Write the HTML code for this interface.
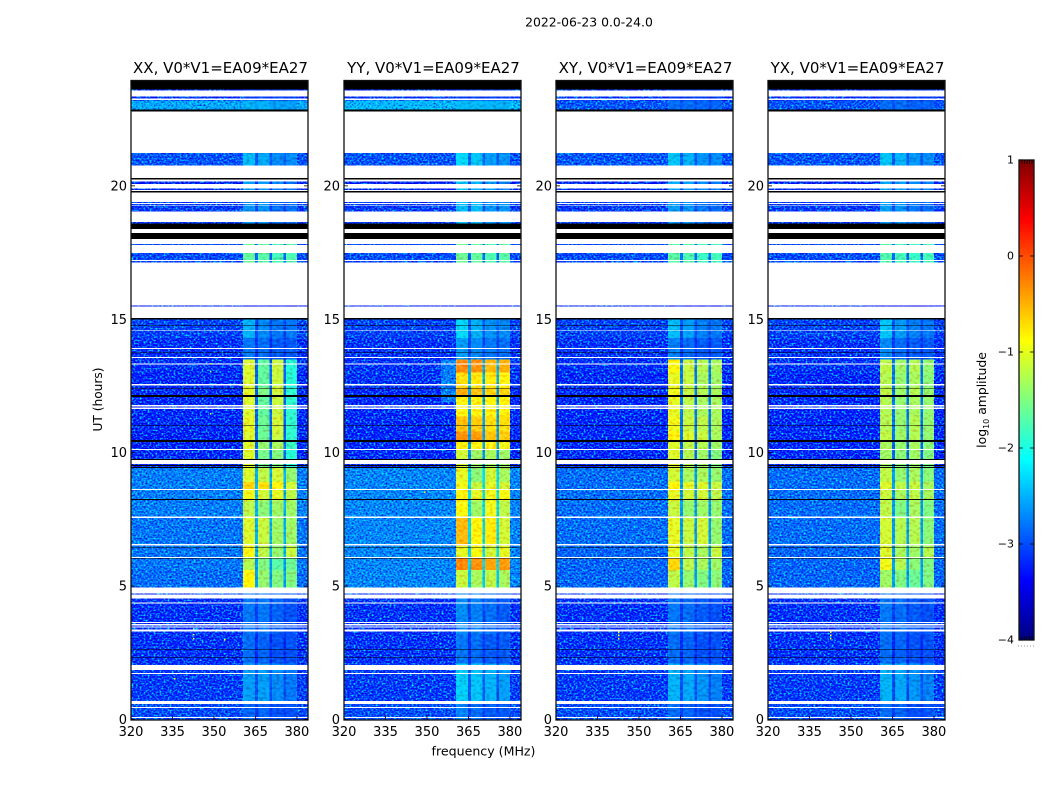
<!DOCTYPE html>
<html lang="en">
<head>
<meta charset="utf-8">
<title>2022-06-23 0.0-24.0</title>
<style>
html,body{margin:0;padding:0;background:#fff;}
svg{display:block;}
text{font-family:"DejaVu Sans","Liberation Sans",sans-serif;fill:#000;}
</style>
</head>
<body>
<svg id="chart" xmlns="http://www.w3.org/2000/svg" width="1050" height="800" viewBox="0 0 1050 800">
<defs>
<filter id="grain-strong" x="0" y="0" width="100%" height="100%" color-interpolation-filters="sRGB">
<feTurbulence type="fractalNoise" baseFrequency="0.5 0.6" numOctaves="1" seed="7"/>
<feColorMatrix type="matrix" values="0 0 0 0 0.5  1.5 0 0 0 -0.2  0.7 0 0 0 0.22  0 0 0 0 1"/>
</filter>
<filter id="grain-weak" x="0" y="0" width="100%" height="100%" color-interpolation-filters="sRGB">
<feTurbulence type="fractalNoise" baseFrequency="0.3 0.4" numOctaves="1" seed="11"/>
<feColorMatrix type="matrix" values="0 0 0 0 0.5  0.4 0 0 0 0.3  0.4 0 0 0 0.3  0 0 0 0 1"/>
</filter>
</defs>
<rect x="0" y="0" width="1050" height="800" fill="#fff"/>
<text x="589" y="26.5" font-size="12.4" text-anchor="middle">2022-06-23 0.0-24.0</text>
<text x="483.5" y="755.5" font-size="12.6" text-anchor="middle">frequency (MHz)</text>
<text x="0" y="0" font-size="12.2" text-anchor="middle" transform="translate(102,399.5) rotate(-90)">UT (hours)</text>
<text x="0" y="0" font-size="12.4" text-anchor="middle" transform="translate(986,400) rotate(-90)">log<tspan font-size="8" dy="3">10</tspan><tspan dy="-3"> amplitude</tspan></text>
<g id="panels"></g>
<g id="colorbar"></g>
</svg>
<script>
/* ---------- data ---------- */
const panelNames = ["XX, V0*V1=EA09*EA27","YY, V0*V1=EA09*EA27","XY, V0*V1=EA09*EA27","YX, V0*V1=EA09*EA27"];
const xTickValues = [320,335,350,365,380];
const yTickValues = [0,5,10,15,20];
const colorbarTickValues = [1,0,-1,-2,-3,-4];

/* frequency channels (MHz): background, band1, gap, band2, gap, band3, gap, band4, background */
const channelEdges = [320,360.5,364.8,365.9,370,371,375.1,376,380,384];
/* which value of a row each channel reads: 0 bg, 1-4 bands, 5 gap */
const channelSource = [0,1,5,2,5,3,5,4,0];

/* time blocks (UT hours) */
const rowEdges = [0,.7,2.1,3.2,4.85,5.6,6.05,6.5,7.55,8.2,8.6,8.9,9.45,10.1,10.4,10.8,11.35,12.1,12.45,13,13.5,14.3,15,17,18,19.5,20.4,21.5,22.7,23.2,23.93];

/* log10 amplitude per time block: [bg, band1, band2, band3, band4, gap] */
const levelsXX = [
[-3.15,-2.9,-2.9,-3.0,-3.0,-3.1],[-3.25,-2.6,-2.6,-2.7,-2.8,-3.0],[-3.3,-2.85,-2.9,-3.0,-3.0,-3.2],[-3.3,-2.8,-2.8,-2.9,-3.0,-3.1],
[-2.95,-0.85,-1.4,-1.5,-1.5,-2.6],[-2.9,-1.25,-1.5,-1.7,-1.6,-2.6],[-2.9,-0.9,-1.2,-1.4,-1.15,-2.5],[-2.9,-1.05,-1.15,-1.35,-1.35,-2.5],
[-2.85,-1.2,-1.45,-1.35,-1.35,-2.5],[-2.85,-0.95,-1.1,-1.0,-1.2,-2.5],[-2.85,-0.7,-0.75,-0.85,-1.1,-2.5],[-2.85,-1.05,-1.2,-1.1,-1.4,-2.5],
[-3.35,-1.05,-1.55,-1.5,-1.95,-2.9],[-3.4,-1.05,-1.4,-1.3,-1.85,-2.9],[-3.4,-1.05,-1.6,-1.15,-1.9,-2.9],[-3.35,-1.0,-1.6,-1.1,-1.9,-2.9],
[-3.35,-1.05,-1.65,-1.15,-1.9,-2.9],[-3.35,-1.0,-1.5,-1.1,-1.9,-2.9],[-3.35,-1.05,-1.65,-1.15,-1.95,-2.9],[-3.3,-1.05,-1.65,-1.15,-1.95,-2.9],
[-3.3,-2.8,-2.85,-2.95,-2.95,-3.15],[-3.2,-2.5,-2.7,-2.8,-2.8,-3.05],[-3.45,-3.45,-3.45,-3.45,-3.45,-3.45],
[-3.15,-1.65,-1.7,-1.8,-1.75,-2.9],[-3.25,-2.65,-2.65,-2.85,-2.85,-3.1],[-3.4,-2.6,-2.65,-2.75,-2.8,-3.2],[-3.1,-2.45,-2.55,-2.7,-2.7,-2.95],
[-3.1,-3,-3,-3,-3,-3],[-2.6,-2.5,-2.5,-2.6,-2.6,-2.6],[-3.3,-3.1,-3.1,-3.1,-3.1,-3.2]
];
const levelsYY = [
[-3.15,-2.75,-2.85,-2.95,-2.95,-3.1],[-3.25,-2.35,-2.4,-2.5,-2.6,-2.95],[-3.3,-2.8,-2.85,-2.95,-2.95,-3.15],[-3.3,-2.7,-2.75,-2.85,-2.95,-3.05],
[-2.8,-1.15,-1.3,-1.2,-1.3,-2.4],[-2.8,-0.3,-0.35,-0.45,-0.4,-2.3],[-2.8,-1.0,-0.9,-1.1,-1.0,-2.3],[-2.8,-0.55,-0.85,-0.8,-1.1,-2.3],
[-2.8,-0.9,-1.35,-0.95,-1.2,-2.3],[-2.8,-0.85,-1.0,-0.95,-0.9,-2.3],[-2.8,-0.95,-1.15,-1.0,-1.1,-2.3],[-2.8,-1.0,-1.45,-1.1,-1.3,-2.3],
[-3.35,-1.1,-1.35,-1.3,-1.35,-2.7],[-3.35,-0.85,-0.85,-0.85,-0.95,-2.6],[-3.35,-0.35,-0.4,-0.6,-0.65,-2.6],[-3.35,-0.6,-0.65,-0.75,-0.75,-2.6],
[-3.35,-0.85,-0.85,-0.85,-0.85,-2.6],[-3.35,-0.5,-0.6,-0.7,-0.7,-2.6],[-3.3,-0.75,-0.8,-0.8,-0.85,-2.5],[-3.3,-0.3,-0.35,-0.55,-0.5,-2.5],
[-3.3,-2.6,-2.7,-2.8,-2.85,-3.05],[-3.2,-2.3,-2.5,-2.65,-2.7,-2.95],[-3.45,-3.45,-3.45,-3.45,-3.45,-3.45],
[-3.15,-1.6,-1.65,-1.75,-1.7,-2.9],[-3.25,-2.45,-2.45,-2.65,-2.65,-3.0],[-3.4,-2.4,-2.5,-2.6,-2.7,-3.1],[-3.1,-2.3,-2.4,-2.6,-2.65,-2.9],
[-3.1,-3,-3,-3,-3,-3],[-2.5,-2.45,-2.45,-2.5,-2.5,-2.5],[-3.3,-3.1,-3.1,-3.1,-3.1,-3.2]
];
const levelsXY = [
[-3.15,-2.85,-2.9,-3.0,-3.0,-3.1],[-3.25,-2.5,-2.55,-2.65,-2.75,-3.0],[-3.3,-2.85,-2.9,-3.0,-3.0,-3.2],[-3.3,-2.8,-2.85,-2.95,-3.0,-3.1],
[-3.0,-1.2,-1.4,-1.5,-1.45,-2.6],[-3.0,-0.7,-1.2,-1.3,-1.35,-2.6],[-3.0,-1.0,-1.2,-1.3,-1.15,-2.6],[-2.95,-1.0,-1.15,-1.1,-1.4,-2.6],
[-2.95,-1.15,-1.4,-1.35,-1.4,-2.6],[-2.95,-1.0,-1.1,-1.1,-1.2,-2.6],[-2.95,-0.85,-1.0,-1.05,-1.15,-2.6],[-2.95,-1.1,-1.3,-1.3,-1.4,-2.6],
[-3.35,-1.05,-1.25,-1.35,-1.5,-2.9],[-3.35,-1.05,-1.2,-1.25,-1.35,-2.9],[-3.35,-0.85,-1.05,-1.15,-1.3,-2.8],[-3.35,-0.95,-1.15,-1.2,-1.3,-2.8],
[-3.35,-1.0,-1.2,-1.3,-1.3,-2.8],[-3.35,-0.95,-1.15,-1.25,-1.3,-2.8],[-3.35,-1.0,-1.15,-1.3,-1.35,-2.8],[-3.3,-0.9,-1.15,-1.25,-1.3,-2.8],
[-3.3,-2.75,-2.85,-2.95,-2.95,-3.15],[-3.2,-2.45,-2.6,-2.75,-2.8,-3.0],[-3.45,-3.45,-3.45,-3.45,-3.45,-3.45],
[-3.15,-1.7,-1.75,-1.85,-1.8,-2.9],[-3.25,-2.6,-2.65,-2.8,-2.85,-3.05],[-3.4,-2.55,-2.6,-2.7,-2.75,-3.15],[-3.1,-2.4,-2.5,-2.65,-2.7,-2.95],
[-3.1,-3,-3,-3,-3,-3],[-3.1,-2.85,-2.85,-2.9,-2.9,-3.0],[-3.3,-3.1,-3.1,-3.1,-3.1,-3.2]
];
const levelsYX = [
[-3.15,-2.85,-2.9,-3.0,-3.0,-3.1],[-3.25,-2.5,-2.55,-2.65,-2.75,-3.0],[-3.3,-2.85,-2.9,-3.0,-3.0,-3.2],[-3.3,-2.8,-2.85,-2.95,-3.0,-3.1],
[-3.0,-1.35,-1.5,-1.6,-1.5,-2.6],[-3.0,-0.95,-1.25,-1.45,-1.5,-2.6],[-3.0,-1.05,-1.3,-1.35,-1.25,-2.6],[-2.95,-1.1,-1.25,-1.25,-1.45,-2.6],
[-2.95,-1.2,-1.5,-1.3,-1.5,-2.6],[-2.95,-1.15,-1.3,-1.2,-1.3,-2.6],[-2.95,-1.05,-1.2,-1.15,-1.3,-2.6],[-2.95,-1.2,-1.4,-1.3,-1.45,-2.6],
[-3.35,-1.35,-1.45,-1.35,-1.5,-2.9],[-3.35,-1.3,-1.4,-1.3,-1.45,-2.9],[-3.35,-1.2,-1.35,-1.25,-1.4,-2.8],[-3.35,-1.25,-1.4,-1.25,-1.4,-2.8],
[-3.35,-1.25,-1.4,-1.3,-1.4,-2.8],[-3.35,-1.2,-1.35,-1.25,-1.4,-2.8],[-3.35,-1.25,-1.4,-1.3,-1.45,-2.8],[-3.3,-1.2,-1.35,-1.25,-1.4,-2.8],
[-3.3,-2.7,-2.85,-2.95,-2.95,-3.15],[-3.2,-2.4,-2.6,-2.75,-2.8,-3.0],[-3.45,-3.45,-3.45,-3.45,-3.45,-3.45],
[-3.15,-1.75,-1.8,-1.85,-1.8,-2.9],[-3.25,-2.6,-2.65,-2.8,-2.85,-3.05],[-3.4,-2.55,-2.6,-2.7,-2.75,-3.15],[-3.1,-2.4,-2.5,-2.65,-2.7,-2.95],
[-3.1,-3,-3,-3,-3,-3],[-3.1,-2.85,-2.85,-2.9,-2.9,-3.0],[-3.3,-3.1,-3.1,-3.1,-3.1,-3.2]
];

/* local brighter patches: [panel, hourStart, hourEnd, freqStart, freqEnd, level] */
const patches = [[1,11.9,13.5,355,360.5,-2.85]];

/* isolated bright pixels: [panel, hour, freq, level] */
const hotPixels = [
[0,3.02,353.6,-0.9],[0,1.55,335.5,-0.9],[0,13.37,348.6,-1.1],[0,13.07,348.6,-1.3],[0,11.49,348.6,-1.1],
[0,3.43,342.4,-1.6],[0,3.2,342.4,-1.0],[0,3.05,342.4,-1.0],
[1,8.55,349,-0.7],
[2,3.3,342.5,-0.9],[2,3.18,342.5,-0.9],[2,3.05,342.5,-1.0],
[3,3.3,342.5,-0.9],[3,3.18,342.5,-0.9],[3,3.05,342.5,-1.0]
];

/* rows with no data (white) or zero amplitude (black), common to all products: [hourStart, hourEnd, kind] */
const flagRows = [
[.06,.09,"w"],[.43,.47,"w"],[.58,.70,"w"],[1.71,1.74,"w"],[1.86,2.05,"w"],[2.32,2.34,"k"],[2.62,2.64,"k"],
[3.29,3.38,"w"],[3.44,3.48,"w"],[3.53,3.57,"w"],[3.62,3.66,"w"],[4.34,4.38,"w"],[4.54,4.68,"w"],[4.73,4.94,"w"],
[6.03,6.06,"k"],[6.06,6.09,"w"],[6.42,6.45,"k"],[6.52,6.57,"w"],[7.56,7.60,"w"],[8.23,8.26,"k"],[8.61,8.64,"w"],
[9.42,9.47,"k"],[9.51,9.53,"k"],[9.58,9.73,"w"],[9.73,9.77,"k"],[10.10,10.14,"w"],[10.40,10.48,"k"],[11.02,11.04,"k"],
[11.64,11.69,"w"],[11.74,11.79,"w"],[12.09,12.17,"k"],[12.38,12.40,"k"],[12.49,12.52,"w"],[12.54,12.58,"w"],
[13.30,13.34,"w"],[13.55,13.59,"w"],[13.73,13.76,"k"],[13.89,13.93,"w"],[14.57,14.59,"w"],[14.74,14.77,"k"],
[15.0,15.05,"k"],[15.05,15.47,"w"],[15.51,17.13,"w"],[17.19,17.23,"w"],[17.49,17.79,"w"],[17.83,18.01,"w"],
[18.01,18.24,"k"],[18.24,18.39,"w"],[18.39,18.58,"k"],[18.65,19.03,"w"],[19.25,19.27,"w"],[19.32,19.36,"w"],
[19.40,19.75,"w"],[19.75,19.81,"k"],[19.81,19.85,"w"],[19.90,20.07,"w"],[20.17,20.23,"w"],[20.23,20.30,"k"],
[20.30,20.76,"w"],[21.24,22.78,"w"],[22.78,22.87,"k"],[23.21,23.27,"w"],[23.34,23.58,"w"],[23.62,23.93,"k"]
];

const allLevels = [levelsXX,levelsYY,levelsXY,levelsYX];

/* ---------- layout and scales ---------- */
const SVGNS = "http://www.w3.org/2000/svg";
const panelLefts = [131,344,556,768];
const panelWidth = 177, panelBottom = 719.5, panelTop = 81;
const freqMin = 320, freqMax = 384, hourMax = 23.93;
const xScale = (f, left) => left + (f - freqMin) / (freqMax - freqMin) * panelWidth;
const yScale = h => panelBottom - h / hourMax * (panelBottom - panelTop);

const levelMin = -4, levelMax = 1;
const cbLeft = 1019, cbRight = 1034, cbTop = 160, cbBottom = 640;
const cbScale = l => cbBottom - (l - levelMin) / (levelMax - levelMin) * (cbBottom - cbTop);

function jetChannel(t){ return Math.max(0, Math.min(1, 1.5 - Math.abs(4 * t - 2))); }
function jetColor(level){
  const t = Math.max(0, Math.min(1, (level - levelMin) / (levelMax - levelMin)));
  const r = Math.round(255 * jetChannel(t - 0.25));
  const g = Math.round(255 * jetChannel(t));
  const b = Math.round(255 * jetChannel(t + 0.25));
  return "rgb(" + r + "," + g + "," + b + ")";
}
function shape(parent, tag, attrs){
  const el = document.createElementNS(SVGNS, tag);
  for (const k in attrs) el.setAttribute(k, attrs[k]);
  parent.appendChild(el);
  return el;
}
function rectFromBounds(parent, x0, x1, y0, y1, fill){
  return shape(parent, "rect", {x:x0, y:y1, width:x1 - x0, height:y0 - y1, fill:fill, "shape-rendering":"crispEdges"});
}

/* ---------- panels ---------- */
const panelsRoot = document.getElementById("panels");
panelNames.forEach(function(name, p){
  const left = panelLefts[p];
  const g = shape(panelsRoot, "g", {});
  
  

  const title = shape(g, "text", {x:left + panelWidth / 2 + 1, y:73, "font-size":15, "text-anchor":"middle"});
  title.textContent = name;
  
  

  const heat = shape(g, "g", {style:"isolation:isolate"});
  
  

  allLevels[p].forEach(function(row, r){
    channelSource.forEach(function(src, c){
      const cell = rectFromBounds(heat, xScale(channelEdges[c], left), xScale(channelEdges[c + 1], left), yScale(rowEdges[r]), yScale(rowEdges[r + 1]), jetColor(row[src]));
      
      
    });
  });

  patches.filter(function(q){ return q[0] === p; }).forEach(function(q){
    const patch = rectFromBounds(heat, xScale(q[3], left), xScale(q[4], left), yScale(q[1]), yScale(q[2]), jetColor(q[5]));
    
    
  });

  /* decorative receiver-noise texture: does not encode any value */
  const grainBg = shape(heat, "rect", {x:left, y:panelTop, width:xScale(360.5, left) - left, height:panelBottom - panelTop, fill:"#808080", filter:"url(#grain-strong)", style:"mix-blend-mode:hard-light"});
  
  
  const grainRight = shape(heat, "rect", {x:xScale(380, left), y:panelTop, width:xScale(384, left) - xScale(380, left), height:panelBottom - panelTop, fill:"#808080", filter:"url(#grain-strong)", style:"mix-blend-mode:hard-light"});
  
  
  const grainBand = shape(heat, "rect", {x:xScale(360.5, left), y:panelTop, width:xScale(380, left) - xScale(360.5, left), height:panelBottom - panelTop, fill:"#808080", filter:"url(#grain-weak)", style:"mix-blend-mode:hard-light"});
  
  

  flagRows.forEach(function(f){
    const flag = rectFromBounds(heat, left, left + panelWidth, yScale(f[0]), yScale(f[1]), f[2] === "w" ? "#fff" : "#000");
    
    
  });

  hotPixels.filter(function(q){ return q[0] === p; }).forEach(function(q){
    const x = xScale(q[2], left), y = yScale(q[1]);
    const dot = shape(heat, "rect", {x:x, y:y, width:1.5, height:1.5, fill:jetColor(q[3]), "shape-rendering":"crispEdges"});
    
    
  });

  const frame = shape(g, "rect", {x:left, y:panelTop - 0.5, width:panelWidth, height:panelBottom - panelTop + 1, fill:"none", stroke:"#111", "stroke-width":1.3});
  
  

  xTickValues.forEach(function(v){
    const x = xScale(v, left);
    const t1 = shape(g, "line", {x1:x, x2:x, y1:panelBottom, y2:panelBottom - 4, stroke:"#000", "stroke-width":0.8});
    
    
    const t2 = shape(g, "line", {x1:x, x2:x, y1:panelTop, y2:panelTop + 4, stroke:"#000", "stroke-width":0.8});
    
    
    const lab = shape(g, "text", {x:x, y:736, "font-size":13, "text-anchor":"middle"});
    lab.textContent = v;
    
    
  });
  yTickValues.forEach(function(v){
    const y = yScale(v);
    const t1 = shape(g, "line", {x1:left, x2:left + 4, y1:y, y2:y, stroke:"#000", "stroke-width":0.8});
    
    
    const t2 = shape(g, "line", {x1:left + panelWidth - 4, x2:left + panelWidth, y1:y, y2:y, stroke:"#000", "stroke-width":0.8});
    
    
    const lab = shape(g, "text", {x:left - 4, y:y + 4.5, "font-size":13, "text-anchor":"end"});
    lab.textContent = v;
    
    
  });
});

/* ---------- colorbar ---------- */
const cb = document.getElementById("colorbar");
for (let y = cbTop; y < cbBottom; y += 2) {
  const level = levelMin + (cbBottom - y - 1) / (cbBottom - cbTop) * (levelMax - levelMin);
  const strip = rectFromBounds(cb, cbLeft, cbRight, y + 2, y, jetColor(level));
  
  
}
const cbFrame = shape(cb, "rect", {x:cbLeft, y:cbTop, width:cbRight - cbLeft, height:cbBottom - cbTop, fill:"none", stroke:"#111", "stroke-width":1.3});


colorbarTickValues.forEach(function(v){
  const y = cbScale(v);
  const a = shape(cb, "line", {x1:cbLeft, x2:cbLeft + 4, y1:y, y2:y, stroke:"#000", "stroke-width":0.8});
  
  
  const b = shape(cb, "line", {x1:cbRight - 4, x2:cbRight, y1:y, y2:y, stroke:"#000", "stroke-width":0.8});
  
  
  const lab = shape(cb, "text", {x:1014, y:y + 3.5, "font-size":11, "text-anchor":"end"});
  lab.textContent = v < 0 ? "\u2212" + Math.abs(v) : String(v);
  
  
});
[1022,1024.5,1027,1029.5,1032].forEach(function(x){
  const top = shape(cb, "line", {x1:x, x2:x, y1:cbTop, y2:cbTop + 4, stroke:"#000", "stroke-width":0.7});
  
  
  const bot = shape(cb, "line", {x1:x, x2:x, y1:cbBottom, y2:cbBottom - 4, stroke:"#000", "stroke-width":0.7});
  
  
});
[1018,1021,1024,1027,1030,1033].forEach(function(x){
  const dot = shape(cb, "rect", {x:x, y:645.5, width:1, height:1, fill:"#999"});
  
  
});
</script>
</body>
</html>
